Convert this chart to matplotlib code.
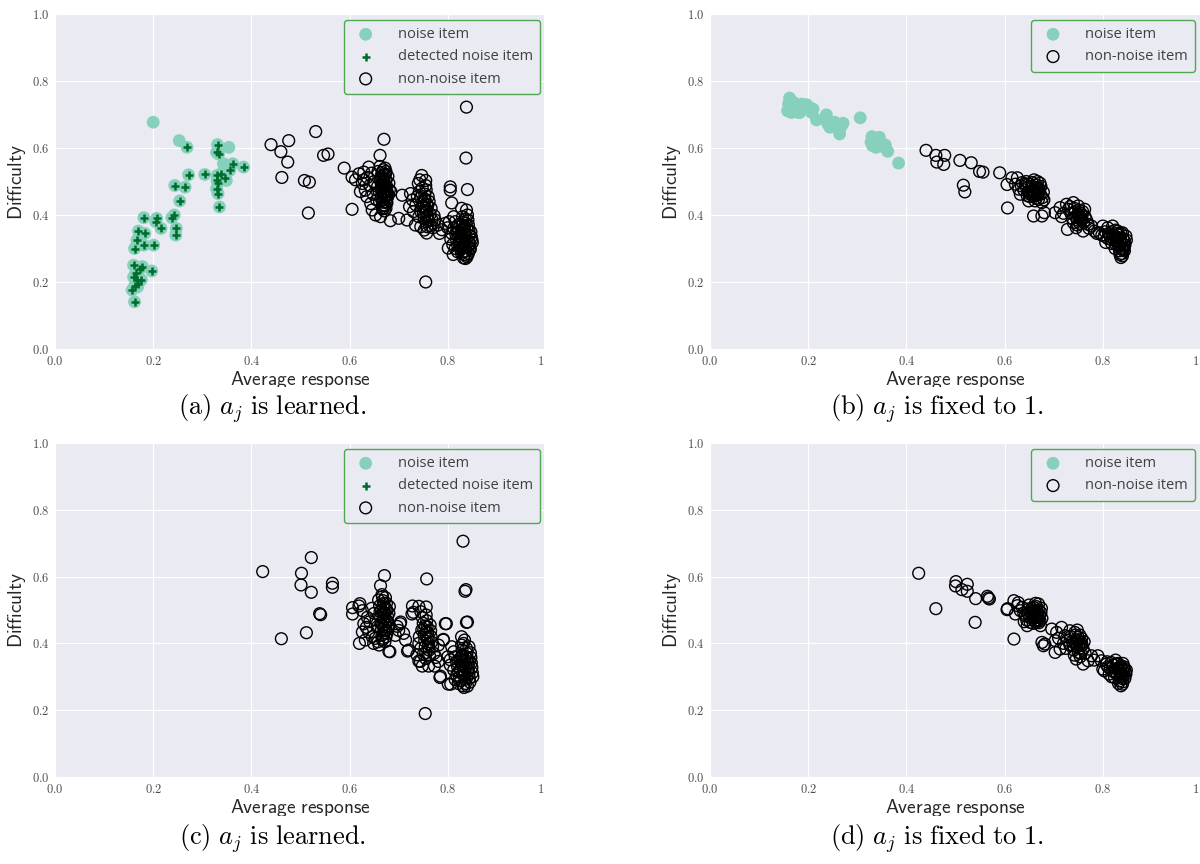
import numpy as np
import matplotlib
matplotlib.use("Agg")
import matplotlib.pyplot as plt
import seaborn as sns
from matplotlib.patches import Rectangle

sns.set_style("darkgrid")
plt.rcParams["mathtext.fontset"] = "cm"
plt.rcParams["font.family"] = ["Open Sans", "DejaVu Sans"]

NOISE_COLOR = "#87d0bb"
DETECT_COLOR = "#006d2c"
LEGEND_EDGE = "#52a852"

ticks = [0.0, 0.2, 0.4, 0.6, 0.8, 1.0]
tick_labels = ["$0.0$", "$0.2$", "$0.4$", "$0.6$", "$0.8$", "$1.0$"]
xlabel = r"$\mathsf{Average\ response}$"
ylabel = r"$\mathsf{Difficulty}$"
captions = [
    r"$\mathrm{(a)}\ a_j\ \mathrm{is\ learned.}$",
    r"$\mathrm{(b)}\ a_j\ \mathrm{is\ fixed\ to\ 1.}$",
    r"$\mathrm{(c)}\ a_j\ \mathrm{is\ learned.}$",
    r"$\mathrm{(d)}\ a_j\ \mathrm{is\ fixed\ to\ 1.}$",
]

# (a) noise items that were not flagged
a_noise = [(0.200, 0.677), (0.253, 0.622), (0.354, 0.602), (0.343, 0.553), (0.349, 0.503),
           (0.163, 0.220), (0.168, 0.185)]
# (a) noise items flagged by the detector
a_detected = [
    (0.269, 0.602), (0.331, 0.610), (0.333, 0.582), (0.329, 0.587), (0.362, 0.553), (0.384, 0.543),
    (0.356, 0.533), (0.272, 0.520), (0.305, 0.521), (0.330, 0.518), (0.338, 0.523), (0.347, 0.511),
    (0.330, 0.503), (0.331, 0.495), (0.329, 0.478), (0.332, 0.464), (0.335, 0.424), (0.244, 0.488),
    (0.265, 0.483), (0.254, 0.442), (0.243, 0.400), (0.238, 0.392), (0.207, 0.390), (0.205, 0.380),
    (0.216, 0.360), (0.247, 0.360), (0.246, 0.340), (0.181, 0.392), (0.183, 0.345), (0.170, 0.352),
    (0.201, 0.310), (0.181, 0.310), (0.167, 0.325), (0.162, 0.300), (0.197, 0.233), (0.178, 0.246),
    (0.176, 0.207), (0.160, 0.250), (0.173, 0.240), (0.160, 0.215), (0.167, 0.206), (0.162, 0.188),
    (0.157, 0.176), (0.162, 0.141), (0.165, 0.228), (0.170, 0.195)]
a_items = [
    (0.440, 0.610), (0.476, 0.622), (0.460, 0.589), (0.474, 0.558), (0.462, 0.512), (0.531, 0.649),
    (0.547, 0.578), (0.556, 0.582), (0.508, 0.503), (0.518, 0.498), (0.516, 0.406), (0.589, 0.540),
    (0.605, 0.417), (0.670, 0.626), (0.662, 0.578),
    (0.605, 0.513), (0.612, 0.505), (0.619, 0.523), (0.629, 0.528), (0.639, 0.543), (0.626, 0.494),
    (0.632, 0.474), (0.643, 0.434), (0.653, 0.400), (0.663, 0.395), (0.683, 0.383), (0.636, 0.512),
    (0.645, 0.525), (0.650, 0.500), (0.641, 0.488), (0.648, 0.462), (0.655, 0.445), (0.658, 0.530),
    (0.662, 0.545), (0.664, 0.515), (0.666, 0.498), (0.667, 0.480), (0.668, 0.462), (0.669, 0.447),
    (0.670, 0.430), (0.671, 0.412), (0.672, 0.540), (0.673, 0.522), (0.674, 0.505), (0.675, 0.488),
    (0.676, 0.470), (0.677, 0.452), (0.676, 0.436), (0.674, 0.420), (0.666, 0.527), (0.668, 0.508),
    (0.670, 0.490), (0.672, 0.472), (0.673, 0.455), (0.670, 0.470), (0.665, 0.455), (0.660, 0.470),
    (0.657, 0.485), (0.678, 0.515), (0.680, 0.495), (0.681, 0.475), (0.679, 0.460), (0.669, 0.535),
    (0.671, 0.519), (0.663, 0.505), (0.661, 0.440), (0.667, 0.418), (0.684, 0.470), (0.629, 0.505),
    (0.622, 0.470), (0.635, 0.455), (0.646, 0.415), (0.667, 0.465), (0.669, 0.500), (0.671, 0.452),
    (0.673, 0.485), (0.675, 0.440), (0.670, 0.510), (0.668, 0.438), (0.672, 0.428), (0.666, 0.492),
    (0.674, 0.530), (0.669, 0.420), (0.676, 0.458), (0.664, 0.478),
    (0.707, 0.459), (0.724, 0.464), (0.747, 0.518), (0.755, 0.503), (0.740, 0.494), (0.717, 0.385),
    (0.700, 0.390), (0.734, 0.370), (0.757, 0.346), (0.754, 0.444), (0.751, 0.425), (0.728, 0.445),
    (0.735, 0.430), (0.742, 0.470), (0.745, 0.452), (0.748, 0.480), (0.749, 0.440), (0.750, 0.405),
    (0.752, 0.390), (0.753, 0.462), (0.756, 0.475), (0.757, 0.432), (0.758, 0.415), (0.759, 0.398),
    (0.760, 0.455), (0.761, 0.382), (0.762, 0.440), (0.763, 0.368), (0.745, 0.410), (0.741, 0.395),
    (0.738, 0.455), (0.730, 0.410), (0.722, 0.425), (0.766, 0.420), (0.764, 0.402), (0.768, 0.385),
    (0.770, 0.362), (0.772, 0.398), (0.745, 0.365), (0.752, 0.355), (0.755, 0.488), (0.743, 0.505),
    (0.748, 0.425), (0.756, 0.410), (0.754, 0.420), (0.757, 0.395), (0.753, 0.448), (0.759, 0.428),
    (0.755, 0.380), (0.758, 0.365),
    (0.774, 0.385), (0.788, 0.356), (0.795, 0.375), (0.780, 0.370), (0.783, 0.345), (0.755, 0.200),
    (0.838, 0.722), (0.837, 0.570), (0.805, 0.484), (0.805, 0.474), (0.840, 0.476), (0.808, 0.436),
    (0.828, 0.420), (0.838, 0.415), (0.801, 0.301), (0.811, 0.282), (0.832, 0.272), (0.849, 0.326),
    (0.812, 0.395), (0.815, 0.380), (0.818, 0.365), (0.820, 0.350), (0.822, 0.338), (0.823, 0.322),
    (0.825, 0.310), (0.826, 0.296), (0.828, 0.285), (0.830, 0.395), (0.831, 0.378), (0.832, 0.362),
    (0.833, 0.348), (0.834, 0.335), (0.835, 0.320), (0.836, 0.305), (0.837, 0.292), (0.838, 0.280),
    (0.840, 0.400), (0.841, 0.385), (0.842, 0.370), (0.843, 0.355), (0.844, 0.340), (0.845, 0.312),
    (0.846, 0.298), (0.842, 0.285), (0.839, 0.275), (0.847, 0.350), (0.848, 0.335), (0.850, 0.318),
    (0.808, 0.345), (0.806, 0.328), (0.810, 0.312), (0.815, 0.300), (0.820, 0.290), (0.817, 0.330),
    (0.827, 0.345), (0.829, 0.330), (0.834, 0.365), (0.836, 0.388), (0.822, 0.372), (0.812, 0.360),
    (0.803, 0.380), (0.800, 0.362), (0.844, 0.300), (0.836, 0.270), (0.828, 0.300), (0.833, 0.310),
    (0.838, 0.325), (0.835, 0.342), (0.830, 0.355), (0.826, 0.330), (0.839, 0.358), (0.841, 0.305),
    (0.832, 0.290), (0.824, 0.318), (0.837, 0.375), (0.829, 0.370), (0.843, 0.320), (0.834, 0.282),
    (0.820, 0.310), (0.816, 0.345)]

b_noise = [
    (0.162, 0.749), (0.160, 0.731), (0.158, 0.711), (0.170, 0.736), (0.176, 0.721), (0.180, 0.706),
    (0.187, 0.731), (0.197, 0.729), (0.203, 0.721), (0.207, 0.706), (0.210, 0.716), (0.217, 0.684),
    (0.166, 0.706), (0.183, 0.706), (0.191, 0.716), (0.237, 0.699), (0.240, 0.672), (0.244, 0.662),
    (0.254, 0.677), (0.259, 0.662), (0.264, 0.642), (0.271, 0.674), (0.267, 0.664), (0.306, 0.690),
    (0.330, 0.634), (0.328, 0.617), (0.331, 0.607), (0.341, 0.622), (0.348, 0.612), (0.357, 0.609),
    (0.355, 0.602), (0.362, 0.590), (0.384, 0.555), (0.338, 0.602), (0.345, 0.632)]
b_items = [
    (0.440, 0.593), (0.460, 0.578), (0.478, 0.578), (0.462, 0.558), (0.476, 0.551), (0.509, 0.563),
    (0.532, 0.556), (0.549, 0.530), (0.556, 0.528), (0.516, 0.489), (0.519, 0.469), (0.590, 0.526),
    (0.605, 0.491), (0.606, 0.421),
    (0.615, 0.511), (0.626, 0.511), (0.622, 0.492), (0.629, 0.477), (0.636, 0.497), (0.632, 0.462),
    (0.642, 0.492), (0.649, 0.492), (0.656, 0.497), (0.662, 0.482), (0.669, 0.482), (0.673, 0.462),
    (0.669, 0.447), (0.662, 0.442), (0.649, 0.442), (0.652, 0.462), (0.659, 0.467), (0.676, 0.437),
    (0.659, 0.397), (0.676, 0.397), (0.681, 0.407), (0.645, 0.480), (0.648, 0.470), (0.651, 0.455),
    (0.655, 0.485), (0.658, 0.475), (0.661, 0.458), (0.664, 0.490), (0.666, 0.472), (0.668, 0.460),
    (0.671, 0.475), (0.674, 0.485), (0.677, 0.452), (0.664, 0.450), (0.655, 0.470), (0.646, 0.458),
    (0.639, 0.475), (0.667, 0.500), (0.660, 0.505), (0.672, 0.495), (0.679, 0.468), (0.680, 0.445),
    (0.644, 0.500), (0.634, 0.487), (0.663, 0.465), (0.670, 0.468), (0.657, 0.460), (0.665, 0.480),
    (0.703, 0.407), (0.713, 0.422), (0.726, 0.432), (0.740, 0.437), (0.730, 0.417), (0.728, 0.357),
    (0.740, 0.377), (0.750, 0.402), (0.756, 0.392), (0.746, 0.362), (0.760, 0.352), (0.770, 0.372),
    (0.777, 0.367), (0.750, 0.427), (0.763, 0.417), (0.735, 0.405), (0.738, 0.390), (0.742, 0.420),
    (0.745, 0.395), (0.748, 0.385), (0.751, 0.415), (0.753, 0.375), (0.755, 0.405), (0.757, 0.385),
    (0.759, 0.410), (0.761, 0.378), (0.764, 0.395), (0.744, 0.410), (0.733, 0.425), (0.720, 0.405),
    (0.716, 0.395), (0.752, 0.395), (0.748, 0.370), (0.767, 0.385), (0.772, 0.360), (0.754, 0.388),
    (0.758, 0.400),
    (0.783, 0.352), (0.793, 0.347), (0.800, 0.367), (0.803, 0.337), (0.810, 0.362), (0.817, 0.327),
    (0.820, 0.367), (0.827, 0.312), (0.830, 0.352), (0.834, 0.293), (0.837, 0.273), (0.840, 0.347),
    (0.844, 0.293), (0.844, 0.322), (0.847, 0.337), (0.805, 0.350), (0.812, 0.345), (0.815, 0.335),
    (0.818, 0.350), (0.822, 0.340), (0.824, 0.325), (0.826, 0.355), (0.828, 0.335), (0.830, 0.320),
    (0.832, 0.305), (0.833, 0.340), (0.835, 0.328), (0.836, 0.315), (0.838, 0.300), (0.839, 0.285),
    (0.841, 0.330), (0.842, 0.312), (0.843, 0.300), (0.845, 0.310), (0.848, 0.325), (0.835, 0.282),
    (0.840, 0.278), (0.825, 0.300), (0.818, 0.315), (0.810, 0.330), (0.798, 0.340), (0.788, 0.345),
    (0.806, 0.318), (0.829, 0.345), (0.837, 0.345), (0.831, 0.330), (0.839, 0.318), (0.834, 0.310),
    (0.827, 0.325), (0.841, 0.295)]

c_items = [
    (0.423, 0.615), (0.461, 0.414), (0.502, 0.610), (0.501, 0.575), (0.522, 0.657), (0.522, 0.553),
    (0.512, 0.432), (0.541, 0.486), (0.539, 0.489), (0.565, 0.580), (0.565, 0.568), (0.671, 0.603),
    (0.663, 0.573), (0.831, 0.706), (0.837, 0.561), (0.840, 0.464), (0.757, 0.593), (0.754, 0.190),
    (0.797, 0.459), (0.791, 0.412),
    (0.606, 0.507), (0.606, 0.488), (0.619, 0.512), (0.620, 0.400), (0.626, 0.498), (0.636, 0.478),
    (0.629, 0.459), (0.626, 0.434), (0.639, 0.434), (0.646, 0.420), (0.649, 0.400), (0.632, 0.410),
    (0.660, 0.395), (0.680, 0.376), (0.666, 0.546), (0.673, 0.537), (0.621, 0.519), (0.682, 0.375),
    (0.645, 0.505), (0.650, 0.490), (0.654, 0.470), (0.657, 0.450), (0.659, 0.530), (0.661, 0.512),
    (0.662, 0.495), (0.663, 0.478), (0.664, 0.460), (0.665, 0.442), (0.666, 0.425), (0.667, 0.410),
    (0.668, 0.528), (0.669, 0.510), (0.670, 0.492), (0.671, 0.474), (0.672, 0.456), (0.673, 0.438),
    (0.674, 0.420), (0.675, 0.520), (0.676, 0.500), (0.677, 0.482), (0.678, 0.465), (0.679, 0.447),
    (0.676, 0.430), (0.665, 0.500), (0.668, 0.485), (0.670, 0.445), (0.672, 0.405), (0.641, 0.465),
    (0.634, 0.448), (0.652, 0.415), (0.658, 0.405), (0.681, 0.510), (0.680, 0.490), (0.667, 0.540),
    (0.669, 0.468), (0.671, 0.432), (0.673, 0.505), (0.667, 0.455), (0.670, 0.520), (0.675, 0.470),
    (0.668, 0.415), (0.672, 0.490),
    (0.693, 0.424), (0.703, 0.459), (0.700, 0.439), (0.714, 0.410), (0.720, 0.380), (0.727, 0.488),
    (0.728, 0.512), (0.697, 0.451), (0.704, 0.464), (0.718, 0.377), (0.730, 0.493), (0.741, 0.511),
    (0.756, 0.509), (0.710, 0.430),
    (0.741, 0.400), (0.737, 0.366), (0.744, 0.346), (0.761, 0.332), (0.781, 0.346), (0.781, 0.395),
    (0.795, 0.459), (0.791, 0.410), (0.785, 0.302), (0.801, 0.278), (0.805, 0.351), (0.741, 0.347),
    (0.748, 0.332), (0.773, 0.332), (0.784, 0.298), (0.745, 0.495), (0.748, 0.478), (0.750, 0.460),
    (0.751, 0.442), (0.752, 0.425), (0.753, 0.408), (0.754, 0.390), (0.755, 0.372), (0.756, 0.485),
    (0.757, 0.468), (0.758, 0.450), (0.759, 0.432), (0.760, 0.415), (0.761, 0.398), (0.762, 0.380),
    (0.763, 0.362), (0.764, 0.455), (0.765, 0.438), (0.766, 0.420), (0.767, 0.404), (0.755, 0.355),
    (0.750, 0.368), (0.745, 0.385), (0.742, 0.420), (0.747, 0.440), (0.769, 0.390), (0.772, 0.370),
    (0.776, 0.358), (0.756, 0.435), (0.758, 0.418), (0.754, 0.452), (0.760, 0.390),
    (0.806, 0.278), (0.831, 0.273), (0.838, 0.463), (0.835, 0.556), (0.828, 0.420), (0.832, 0.400),
    (0.808, 0.390), (0.812, 0.375), (0.815, 0.360), (0.818, 0.345), (0.820, 0.330), (0.822, 0.315),
    (0.824, 0.300), (0.826, 0.288), (0.828, 0.395), (0.829, 0.380), (0.830, 0.365), (0.831, 0.350),
    (0.832, 0.335), (0.833, 0.320), (0.834, 0.305), (0.835, 0.292), (0.836, 0.280), (0.838, 0.385),
    (0.839, 0.370), (0.840, 0.355), (0.841, 0.340), (0.842, 0.325), (0.843, 0.310), (0.844, 0.296),
    (0.845, 0.284), (0.846, 0.372), (0.847, 0.358), (0.848, 0.342), (0.849, 0.328), (0.850, 0.312),
    (0.851, 0.300), (0.840, 0.272), (0.833, 0.268), (0.825, 0.355), (0.818, 0.305), (0.812, 0.320),
    (0.805, 0.335), (0.800, 0.360), (0.827, 0.340), (0.836, 0.360), (0.843, 0.390), (0.834, 0.410),
    (0.821, 0.280), (0.815, 0.292), (0.837, 0.330), (0.830, 0.310), (0.841, 0.318), (0.835, 0.345),
    (0.828, 0.360), (0.839, 0.298), (0.826, 0.322), (0.844, 0.345)]

d_items = [
    (0.425, 0.610), (0.460, 0.504), (0.501, 0.585), (0.500, 0.572), (0.513, 0.561), (0.524, 0.577),
    (0.524, 0.556), (0.541, 0.534), (0.540, 0.463), (0.565, 0.541), (0.567, 0.536), (0.569, 0.533),
    (0.605, 0.501), (0.606, 0.504), (0.619, 0.413),
    (0.619, 0.528), (0.626, 0.513), (0.622, 0.488), (0.632, 0.498), (0.642, 0.483), (0.646, 0.453),
    (0.649, 0.503), (0.659, 0.508), (0.666, 0.498), (0.669, 0.478), (0.673, 0.453), (0.662, 0.468),
    (0.656, 0.478), (0.652, 0.463), (0.669, 0.518), (0.628, 0.522), (0.636, 0.508), (0.639, 0.490),
    (0.645, 0.470), (0.648, 0.490), (0.651, 0.478), (0.653, 0.495), (0.655, 0.505), (0.657, 0.488),
    (0.660, 0.475), (0.661, 0.492), (0.663, 0.480), (0.664, 0.462), (0.665, 0.510), (0.667, 0.490),
    (0.668, 0.470), (0.670, 0.500), (0.671, 0.485), (0.672, 0.468), (0.674, 0.492), (0.676, 0.475),
    (0.658, 0.460), (0.650, 0.515), (0.663, 0.520), (0.675, 0.505), (0.640, 0.465), (0.666, 0.482),
    (0.660, 0.498), (0.670, 0.462),
    (0.676, 0.403), (0.679, 0.393), (0.682, 0.398), (0.696, 0.443), (0.706, 0.433), (0.703, 0.408),
    (0.716, 0.448), (0.703, 0.373), (0.713, 0.383), (0.723, 0.423), (0.733, 0.438), (0.743, 0.433),
    (0.750, 0.418), (0.756, 0.403), (0.760, 0.383), (0.750, 0.373), (0.740, 0.393), (0.746, 0.353),
    (0.760, 0.338), (0.770, 0.348), (0.720, 0.400), (0.728, 0.410), (0.735, 0.420), (0.738, 0.405),
    (0.741, 0.380), (0.744, 0.425), (0.745, 0.400), (0.747, 0.390), (0.748, 0.410), (0.751, 0.395),
    (0.752, 0.385), (0.753, 0.425), (0.755, 0.370), (0.757, 0.415), (0.758, 0.395), (0.762, 0.405),
    (0.733, 0.395), (0.725, 0.385), (0.710, 0.415), (0.742, 0.365), (0.754, 0.360), (0.764, 0.370),
    (0.748, 0.440), (0.754, 0.398), (0.750, 0.408),
    (0.777, 0.363), (0.790, 0.363), (0.797, 0.348), (0.800, 0.323), (0.807, 0.338), (0.817, 0.343),
    (0.827, 0.338), (0.837, 0.333), (0.844, 0.323), (0.847, 0.308), (0.834, 0.288), (0.837, 0.273),
    (0.824, 0.298), (0.813, 0.308), (0.803, 0.318), (0.782, 0.350), (0.810, 0.330), (0.815, 0.325),
    (0.820, 0.318), (0.822, 0.335), (0.825, 0.312), (0.828, 0.325), (0.830, 0.305), (0.831, 0.340),
    (0.833, 0.318), (0.835, 0.300), (0.836, 0.328), (0.838, 0.310), (0.839, 0.295), (0.840, 0.320),
    (0.841, 0.285), (0.842, 0.305), (0.843, 0.330), (0.845, 0.295), (0.846, 0.315), (0.840, 0.278),
    (0.832, 0.280), (0.818, 0.300), (0.809, 0.345), (0.826, 0.350), (0.841, 0.340), (0.848, 0.320),
    (0.836, 0.315), (0.839, 0.302), (0.832, 0.325)]


def xy(points):
    arr = np.array(points, dtype=float).reshape(-1, 2)
    return arr[:, 0], arr[:, 1]


W, H = 1200, 864
fig = plt.figure(figsize=(W / 100, H / 100), dpi=100)


def px_axes(left, top, right, bottom):
    return fig.add_axes([left / W, 1 - bottom / H, (right - left) / W, (bottom - top) / H])


def panel(ax, noise, detected, items, with_detected):
    nx, ny = xy(noise)
    ax.scatter(nx, ny, s=85, color=NOISE_COLOR, edgecolors="none", label="noise item", zorder=2)
    if with_detected:
        dx, dy = xy(detected)
        ax.scatter(dx, dy, s=34, marker="+", color=DETECT_COLOR, linewidths=1.8,
                   label="detected noise item", zorder=3)
    ix, iy = xy(items)
    ax.scatter(ix, iy, s=72, facecolors="none", edgecolors="black", linewidths=1.0,
               label="non-noise item", zorder=4)
    ax.set_xlim(0, 1)
    ax.set_ylim(0, 1)
    ax.set_xticks(ticks)
    ax.set_yticks(ticks)
    ax.set_xticklabels(tick_labels, fontsize=9, color="0.3")
    ax.set_yticklabels(tick_labels, fontsize=9, color="0.3")
    ax.tick_params(length=0, pad=4)
    ax.set_xlabel(xlabel, fontsize=14, color="0.15", va="center")
    ax.set_ylabel(ylabel, fontsize=14, color="0.15", va="center")
    ax.xaxis.set_label_coords(0.5, -0.093)
    ax.yaxis.set_label_coords(-0.078, 0.5)
    leg = ax.legend(loc="upper right", fontsize=10.5, frameon=True, fancybox=True,
                    facecolor="#eaeaf2", edgecolor=LEGEND_EDGE, framealpha=1,
                    handletextpad=1.2, labelspacing=0.5, borderpad=0.5,
                    borderaxespad=0.4, scatterpoints=1)
    leg.get_frame().set_linewidth(1.0)
    for t in leg.get_texts():
        t.set_color("0.25")


ax_a = px_axes(55, 14, 546, 349)
ax_b = px_axes(710, 14, 1201, 349)
ax_c = px_axes(55, 443, 546, 777)
ax_d = px_axes(710, 443, 1201, 777)

panel(ax_a, a_noise + a_detected, a_detected, a_items, True)
panel(ax_b, b_noise, [], b_items, False)
panel(ax_c, [], [], c_items, True)
panel(ax_d, [], [], d_items, False)

# trim the panels the way the subfigures are cropped
for (x0, y0, x1, y1) in [(544, 0, 600, 400), (544, 430, 600, 830),
                         (0, 387, W, 396), (0, 816, W, 825)]:
    fig.patches.append(Rectangle((x0 / W, 1 - y1 / H), (x1 - x0) / W, (y1 - y0) / H,
                                 transform=fig.transFigure, facecolor="white",
                                 edgecolor="none", zorder=10))

for text, (cx, cy) in zip(captions, [(272, 409), (937, 409), (272, 839), (937, 839)]):
    fig.text(cx / W, 1 - cy / H, text, ha="center", va="center", fontsize=19,
             color="black", zorder=11)

fig.savefig("out.png", dpi=100, facecolor="white")
